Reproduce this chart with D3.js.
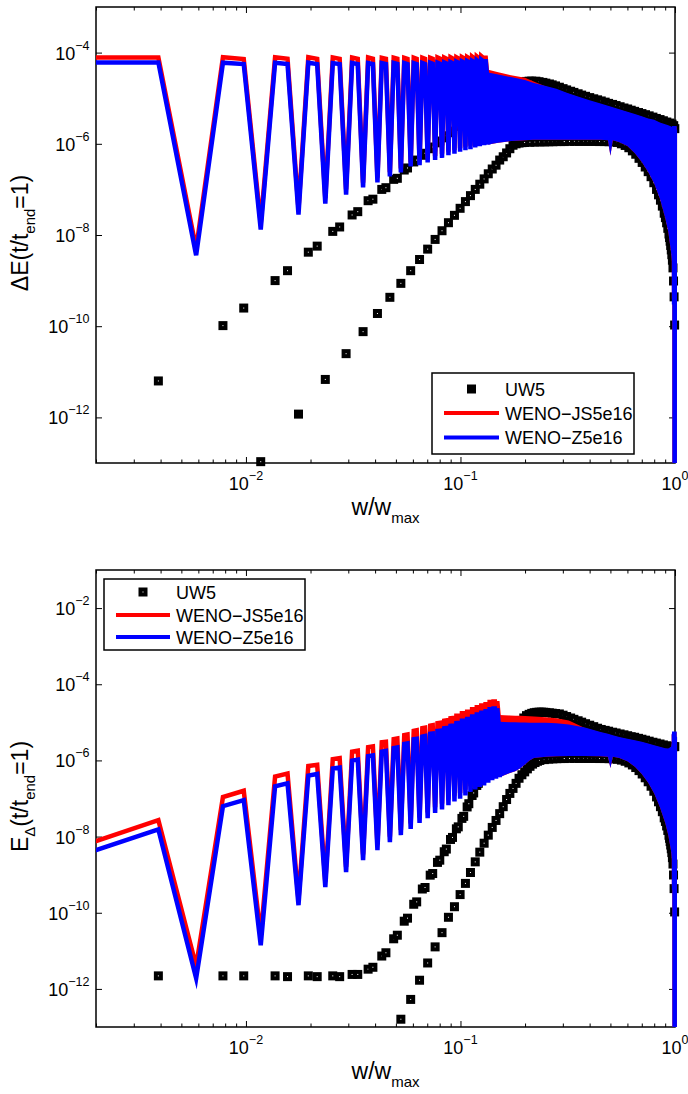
<!DOCTYPE html>
<html>
<head>
<meta charset="utf-8">
<script src="https://cdn.jsdelivr.net/npm/d3@7"></script>
<style>
  body { margin: 0; background: #fff; }
  svg text { font-family: "Liberation Sans", Arial, Helvetica, sans-serif; fill: #000; }
</style>
</head>
<body>
<svg id="fig" width="688" height="1094"></svg>
<script>
// mode k sits at w/w_max = k / N_MODES
const N_MODES = 512;

// ---------- upper panel : dE(t/t_end = 1) ----------
// WENO lines, modes 1..69 (every third mode drops to a trough)
const dE_js = [
  7.8e-5, 7.8e-5, 5.0e-9,  7.9e-5, 7.2e-5, 1.8e-8,  7.9e-5, 7.3e-5, 3.7e-8,
  7.9e-5, 7.3e-5, 6.4e-8,  7.8e-5, 7.3e-5, 1.0e-7,  7.8e-5, 7.3e-5, 1.4e-7,
  7.8e-5, 7.3e-5, 1.8e-7,  7.7e-5, 7.3e-5, 2.4e-7,  7.7e-5, 7.3e-5, 2.9e-7,
  7.7e-5, 7.3e-5, 3.9e-7,  7.7e-5, 7.3e-5, 4.2e-7,  7.7e-5, 7.3e-5, 4.8e-7,
  7.7e-5, 7.3e-5, 5.4e-7,  7.8e-5, 7.4e-5, 6.0e-7,  7.8e-5, 7.4e-5, 6.7e-7,
  7.9e-5, 7.5e-5, 7.3e-7,  7.9e-5, 7.5e-5, 8.0e-7,  8.0e-5, 7.6e-5, 8.6e-7,
  8.0e-5, 7.6e-5, 9.1e-7,  8.2e-5, 7.7e-5, 9.8e-7,  8.3e-5, 7.8e-5, 1.05e-6,
  8.4e-5, 7.9e-5, 1.1e-6,  8.6e-5, 3.9e-5, 1.15e-6
];
const dE_z = [
  6.1e-5, 6.1e-5, 3.6e-9,  6.0e-5, 5.6e-5, 1.32e-8, 6.0e-5, 5.6e-5, 2.8e-8,
  6.0e-5, 5.6e-5, 4.9e-8,  5.9e-5, 5.6e-5, 7.7e-8,  5.9e-5, 5.6e-5, 1.1e-7,
  5.9e-5, 5.6e-5, 1.42e-7, 5.9e-5, 5.6e-5, 1.92e-7, 5.9e-5, 5.6e-5, 2.35e-7,
  5.9e-5, 5.6e-5, 3.2e-7,  5.9e-5, 5.6e-5, 3.4e-7,  5.9e-5, 5.6e-5, 3.9e-7,
  6.0e-5, 5.7e-5, 4.4e-7,  6.0e-5, 5.7e-5, 4.9e-7,  6.1e-5, 5.8e-5, 5.6e-7,
  6.2e-5, 5.9e-5, 6.1e-7,  6.3e-5, 6.0e-5, 6.7e-7,  6.4e-5, 6.1e-5, 7.2e-7,
  6.5e-5, 6.2e-5, 7.6e-7,  6.6e-5, 6.3e-5, 8.3e-7,  6.8e-5, 6.4e-5, 8.9e-7,
  7.0e-5, 6.6e-5, 9.3e-7,  7.2e-5, 3.4e-5, 9.6e-7
];
// dense part: top of each line and common bottom of the band
const dE_bandW    = [0.1348, 0.15, 0.172, 0.2, 0.218, 0.25, 0.28, 0.313, 0.35, 0.4, 0.45, 0.487, 0.5, 0.513,
                     0.55, 0.6, 0.65, 0.7, 0.75, 0.8, 0.85, 0.9, 0.93, 0.96, 0.975, 0.985, 0.99];
const dE_bandJsTop = [4.2e-5, 3.7e-5, 3.2e-5, 2.8e-5, 2.35e-5, 1.8e-5, 1.56e-5, 1.28e-5, 1.07e-5, 8.7e-6, 7.4e-6, 6.6e-6, 6.4e-6, 6.15e-6,
                     5.6e-6, 4.9e-6, 4.35e-6, 3.9e-6, 3.5e-6, 3.25e-6, 2.85e-6, 2.6e-6, 2.47e-6, 2.33e-6, 2.23e-6, 2.13e-6, 2.0e-6];
const dE_bandZTop  = [3.66e-5, 3.3e-5, 2.9e-5, 2.5e-5, 2.17e-5, 1.86e-5, 1.61e-5, 1.32e-5, 1.1e-5, 9.0e-6, 7.65e-6, 6.8e-6, 6.6e-6, 6.35e-6,
                     5.75e-6, 5.05e-6, 4.5e-6, 4.0e-6, 3.6e-6, 3.35e-6, 2.95e-6, 2.7e-6, 2.55e-6, 2.4e-6, 2.3e-6, 2.2e-6, 2.05e-6];
const dE_bandLow   = [9.6e-7, 1.05e-6, 1.15e-6, 1.2e-6, 1.22e-6, 1.22e-6, 1.22e-6, 1.22e-6, 1.22e-6, 1.22e-6, 1.22e-6, 1.2e-6, 5.5e-7, 1.2e-6,
                     1.08e-6, 9.0e-7, 6.2e-7, 4.0e-7, 2.4e-7, 1.35e-7, 6.3e-8, 2.4e-8, 1.2e-8, 4e-9, 2e-9, 9e-10, 5e-10];
// last modes 505..512
const dE_tailJs = [2.1e-6, 2.1e-6, 4e-10, 2.1e-6, 2.1e-6, 1e-15, 2.0e-6, 2.0e-6];
const dE_tailZ  = [2.2e-6, 2.2e-6, 3e-10, 2.2e-6, 2.2e-6, 1e-15, 2.05e-6, 2.05e-6];
// UW5 markers [mode, value]
const dE_uw5Upper = [[2,6.3e-12],[4,1.03e-10],[5,2.5e-10],[7,1.0e-9],[8,1.65e-9],[10,4.2e-9],[11,5.7e-9],[13,1.2e-8],[14,1.5e-8],
  [16,2.75e-8],[17,3.25e-8],[19,5.65e-8],[20,6.1e-8],[22,1.0e-7],[23,1.09e-7],[25,1.66e-7],[26,1.75e-7],[28,2.66e-7],[29,2.95e-7],
  [31,4.0e-7],[32,4.4e-7],[34,5.6e-7],[35,6.2e-7],[37,7.8e-7],[38,8.5e-7],[40,1.05e-6],[41,1.15e-6],[43,1.35e-6],[44,1.5e-6],
  [46,1.75e-6],[47,1.9e-6],[50,2.4e-6],[53,3.0e-6],[56,3.6e-6],[59,4.3e-6],[62,5.1e-6],[65,6.0e-6],[68,7.0e-6],[71,8.0e-6],
  [74,9.0e-6],[77,1.0e-5],[80,1.1e-5],[83,1.25e-5],[86,1.45e-5],[89,1.75e-5],[92,1.95e-5],[95,2.1e-5],[98,2.2e-5],[101,2.28e-5],
  [104,2.33e-5],[107,2.36e-5],[110,2.37e-5],[115,2.36e-5],[119,2.3e-5],[124,2.22e-5],[128,2.14e-5],[133,2.05e-5],[137,1.96e-5],
  [142,1.86e-5],[148,1.74e-5],[154,1.62e-5],[160,1.52e-5],[167,1.42e-5],[173,1.34e-5],[181,1.25e-5],[188,1.17e-5],[196,1.1e-5],
  [205,1.03e-5],[214,9.7e-6],[223,9.2e-6],[232,8.7e-6],[242,8.2e-6],[251,7.7e-6],[262,7.3e-6],[272,6.9e-6],[284,6.5e-6],
  [296,6.1e-6],[308,5.8e-6],[320,5.45e-6],[332,5.15e-6],[346,4.85e-6],[359,4.6e-6],[373,4.35e-6],[388,4.1e-6],[404,3.85e-6],
  [419,3.6e-6],[436,3.4e-6],[452,3.2e-6],[469,3.0e-6],[484,2.85e-6],[496,2.7e-6],[505,2.5e-6],[511,2.15e-6]];
const dE_uw5Lower = [[6,1.07e-13],[9,1.18e-12],[12,6.8e-12],[15,2.5e-11],[18,7.6e-11],[21,1.9e-10],[24,4.3e-10],[27,8.7e-10],
  [30,1.65e-9],[33,2.9e-9],[36,4.9e-9],[39,8.0e-9],[42,1.24e-8],[45,1.86e-8],[48,2.7e-8],[51,3.85e-8],[54,5.4e-8],[57,7.3e-8],
  [60,1.0e-7],[63,1.3e-7],[66,1.7e-7],[69,2.2e-7],[72,2.8e-7],[75,3.4e-7],[78,4.4e-7],[81,5.2e-7],[84,6.3e-7],[87,7.8e-7],
  [90,9.3e-7],[93,1.0e-6],[96,1.04e-6],[99,1.06e-6],[102,1.07e-6],[108,1.08e-6],[114,1.09e-6],[120,1.1e-6],[126,1.1e-6],
  [132,1.11e-6],[138,1.11e-6],[144,1.12e-6],[150,1.12e-6],[156,1.12e-6],[165,1.13e-6],[174,1.13e-6],[183,1.13e-6],[192,1.13e-6],
  [201,1.13e-6],[210,1.13e-6],[219,1.13e-6],[228,1.12e-6],[240,1.12e-6],[252,1.11e-6],[264,1.1e-6],[276,1.07e-6],[288,1.0e-6],
  [300,9.2e-7],[312,8.2e-7],[324,7.0e-7],[336,5.9e-7],[348,4.8e-7],[360,3.9e-7],[372,3.1e-7],[384,2.45e-7],[396,1.9e-7],
  [408,1.4e-7],[420,1.0e-7],[429,7.6e-8],[438,5.8e-8],[447,4.3e-8],[456,3.0e-8],[462,2.4e-8],[468,1.85e-8],[474,1.4e-8],
  [480,1.05e-8],[483,8.8e-9],[486,7.3e-9],[489,5.9e-9],[492,4.7e-9],[495,3.7e-9],[498,2.8e-9],[501,1.9e-9],[504,9.8e-10],
  [507,4.4e-10],[510,1.06e-10]];

// ---------- lower panel : E_delta(t/t_end = 1) ----------
// WENO lines, modes 1..78
const Ed_js = [
  7.3e-9, 2.7e-8, 4.0e-12,  1.09e-7, 1.6e-7, 2.5e-11,  3.75e-7, 4.5e-7, 2.2e-10,
  7.1e-7, 7.65e-7, 6.6e-10, 1.08e-6, 1.15e-6, 1.6e-9,  1.7e-6, 1.8e-6, 3.4e-9,
  2.24e-6, 2.35e-6, 6.2e-9, 3.0e-6, 3.1e-6, 1.0e-8,    3.6e-6, 3.75e-6, 1.5e-8,
  4.6e-6, 4.8e-6, 2.2e-8,   6.0e-6, 6.2e-6, 3.2e-8,    7.0e-6, 7.2e-6, 4.3e-8,
  8.2e-6, 8.4e-6, 5.9e-8,   9.5e-6, 9.7e-6, 7.3e-8,    1.11e-5, 1.13e-5, 9.4e-8,
  1.28e-5, 1.3e-5, 1.18e-7, 1.5e-5, 1.5e-5, 1.39e-7,   1.73e-5, 1.73e-5, 1.7e-7,
  1.9e-5, 1.9e-5, 2.1e-7,   2.2e-5, 2.2e-5, 2.45e-7,   2.5e-5, 2.5e-5, 2.8e-7,
  2.75e-5, 2.75e-5, 3.1e-7, 3.0e-5, 3.0e-5, 3.6e-7,    3.4e-5, 3.4e-5, 4.2e-7,
  3.5e-5, 3.5e-5, 4.6e-7,   3.6e-5, 1.6e-5, 5.0e-7
];
const Ed_z = [
  4.2e-9, 1.54e-8, 1.9e-12, 6.3e-8, 9.1e-8, 1.4e-11,    2.1e-7, 2.5e-7, 1.58e-10,
  4.0e-7, 4.4e-7, 4.7e-10,  6.1e-7, 6.45e-7, 1.16e-9,  9.9e-7, 1.05e-6, 2.4e-9,
  1.3e-6, 1.36e-6, 4.4e-9,  1.7e-6, 1.78e-6, 7.1e-9,    2.1e-6, 2.2e-6, 1.09e-8,
  2.7e-6, 2.8e-6, 1.6e-8,   3.6e-6, 3.7e-6, 2.3e-8,     4.2e-6, 4.35e-6, 3.05e-8,
  5.0e-6, 5.1e-6, 4.2e-8,   5.9e-6, 6.0e-6, 5.2e-8,     7.0e-6, 7.1e-6, 6.7e-8,
  8.1e-6, 8.2e-6, 8.4e-8,   9.5e-6, 9.6e-6, 9.9e-8,     1.1e-5, 1.1e-5, 1.21e-7,
  1.22e-5, 1.22e-5, 1.49e-7, 1.42e-5, 1.42e-5, 1.74e-7, 1.6e-5, 1.6e-5, 2.0e-7,
  1.78e-5, 1.78e-5, 2.2e-7, 1.95e-5, 1.95e-5, 2.6e-7,   2.2e-5, 2.2e-5, 3.0e-7,
  2.3e-5, 2.3e-5, 3.3e-7,   2.35e-5, 1.05e-5, 3.6e-7
];
const Ed_bandW     = [0.1523, 0.16, 0.17, 0.18, 0.19, 0.2, 0.21, 0.22, 0.25, 0.28, 0.32, 0.38, 0.45, 0.487, 0.5, 0.513,
                      0.55, 0.6, 0.65, 0.7, 0.75, 0.8, 0.85, 0.9, 0.93, 0.96, 0.975, 0.985, 0.99];
const Ed_bandJsTop = [1.55e-5, 1.54e-5, 1.52e-5, 1.5e-5, 1.48e-5, 1.46e-5, 1.44e-5, 1.42e-5, 1.36e-5, 1.28e-5, 1.12e-5, 7.1e-6, 5.4e-6, 4.85e-6, 4.65e-6, 4.45e-6,
                      4.0e-6, 3.6e-6, 3.3e-6, 3.0e-6, 2.7e-6, 2.42e-6, 2.23e-6, 2.04e-6, 2.0e-6, 2.23e-6, 3.4e-6, 4.65e-6, 4.85e-6];
const Ed_bandZTop  = [1.03e-5, 1.02e-5, 1.01e-5, 1.0e-5, 9.9e-6, 9.9e-6, 9.8e-6, 9.8e-6, 9.7e-6, 9.5e-6, 8.8e-6, 7.3e-6, 5.6e-6, 5.0e-6, 4.8e-6, 4.6e-6,
                      4.1e-6, 3.7e-6, 3.4e-6, 3.1e-6, 2.8e-6, 2.5e-6, 2.3e-6, 2.1e-6, 2.05e-6, 2.3e-6, 3.5e-6, 4.8e-6, 5.0e-6];
const Ed_bandLow   = [3.6e-7, 4.1e-7, 4.7e-7, 5.2e-7, 6.2e-7, 7.8e-7, 1.0e-6, 1.15e-6, 1.25e-6, 1.28e-6, 1.3e-6, 1.3e-6, 1.28e-6, 1.25e-6, 6.3e-7, 1.24e-6,
                      1.15e-6, 9.5e-7, 6.8e-7, 4.4e-7, 2.6e-7, 1.35e-7, 6e-8, 2.3e-8, 1.1e-8, 4e-9, 1.8e-9, 7e-10, 4e-10];
const Ed_tailJs = [4.8e-6, 4.8e-6, 5e-10, 4.8e-6, 4.8e-6, 1e-15, 4.0e-6, 4.0e-6];
const Ed_tailZ  = [5.0e-6, 5.0e-6, 4e-10, 5.0e-6, 5.0e-6, 1e-15, 4.2e-6, 4.2e-6];
const Ed_uw5Upper = [[2,2.2e-12],[4,2.2e-12],[5,2.2e-12],[7,2.2e-12],[8,2.1e-12],[10,2.2e-12],[11,2.1e-12],[13,2.2e-12],[14,2.1e-12],
  [16,2.4e-12],[17,2.4e-12],[19,3.3e-12],[20,3.7e-12],[22,7.3e-12],[23,8.9e-12],[25,2.07e-11],[26,2.57e-11],[28,6.0e-11],[29,7.2e-11],
  [31,1.67e-10],[32,1.93e-10],[34,4.2e-10],[35,4.6e-10],[37,9.7e-10],[38,1.07e-9],[40,2.1e-9],[41,2.4e-9],[43,4.0e-9],[44,4.7e-9],
  [46,8.4e-9],[47,9.5e-9],[49,1.6e-8],[50,1.8e-8],[52,3.0e-8],[53,3.4e-8],[55,6.0e-8],[56,7.3e-8],[58,1.2e-7],[59,1.4e-7],
  [61,2.2e-7],[62,2.5e-7],[64,3.6e-7],[65,4.0e-7],[67,5.5e-7],[68,6.0e-7],[71,9.0e-7],[74,1.3e-6],[77,1.8e-6],[80,2.5e-6],
  [83,3.3e-6],[86,4.3e-6],[89,5.5e-6],[92,7.0e-6],[95,8.5e-6],[98,1.05e-5],[101,1.3e-5],[104,1.5e-5],[107,1.62e-5],[110,1.72e-5],
  [113,1.79e-5],[116,1.83e-5],[119,1.85e-5],[122,1.85e-5],[125,1.84e-5],[128,1.82e-5],[133,1.78e-5],[137,1.74e-5],[142,1.7e-5],
  [148,1.66e-5],[154,1.54e-5],[160,1.42e-5],[167,1.3e-5],[173,1.2e-5],[181,1.1e-5],[188,1.01e-5],[196,9.2e-6],[205,8.4e-6],
  [214,7.7e-6],[223,7.0e-6],[232,6.5e-6],[242,6.15e-6],[251,5.85e-6],[262,5.5e-6],[272,5.25e-6],[284,4.95e-6],[296,4.7e-6],
  [308,4.45e-6],[320,4.2e-6],[332,4.05e-6],[346,3.8e-6],[359,3.6e-6],[373,3.4e-6],[388,3.2e-6],[404,3.0e-6],[419,2.85e-6],
  [436,2.7e-6],[452,2.55e-6],[469,2.42e-6],[484,2.35e-6],[496,2.32e-6],[505,2.3e-6],[511,2.3e-6]];
const Ed_uw5Lower = [[27,1.6e-13],[30,5.3e-13],[33,1.69e-12],[36,4.8e-12],[39,1.27e-11],[42,3.0e-11],[45,7.6e-11],[48,1.44e-10],
  [51,3.0e-10],[54,5.9e-10],[57,1.14e-9],[60,2.17e-9],[63,3.9e-9],[66,6.7e-9],[69,1.09e-8],[72,1.74e-8],[75,2.65e-8],[78,4.0e-8],
  [81,6.1e-8],[84,9.4e-8],[87,1.36e-7],[90,1.84e-7],[93,2.5e-7],[96,3.4e-7],[99,4.2e-7],[102,5.0e-7],[105,6.0e-7],[108,7.0e-7],
  [111,8.0e-7],[114,8.8e-7],[117,9.5e-7],[120,1.0e-6],[126,1.05e-6],[132,1.08e-6],[138,1.1e-6],[144,1.11e-6],[150,1.12e-6],
  [156,1.12e-6],[165,1.13e-6],[174,1.13e-6],[183,1.13e-6],[192,1.13e-6],[201,1.13e-6],[210,1.13e-6],[219,1.13e-6],[228,1.12e-6],
  [240,1.12e-6],[252,1.11e-6],[264,1.1e-6],[276,1.07e-6],[288,1.02e-6],[300,9.5e-7],[312,8.6e-7],[324,7.6e-7],[336,6.5e-7],
  [348,5.4e-7],[360,4.4e-7],[372,3.5e-7],[384,2.75e-7],[396,2.1e-7],[408,1.55e-7],[420,1.1e-7],[429,8.2e-8],[438,6.1e-8],
  [447,4.5e-8],[456,3.1e-8],[462,2.5e-8],[468,1.9e-8],[474,1.45e-8],[480,1.08e-8],[483,9.0e-9],[486,7.4e-9],[489,6.0e-9],
  [492,4.8e-9],[495,3.8e-9],[498,2.8e-9],[501,1.9e-9],[504,9.8e-10],[507,4.3e-10],[510,1.05e-10]];

const xTickMajor = [0.01, 0.1, 1];
const xTickMinor = [0.002,0.003,0.004,0.005,0.006,0.007,0.008,0.009,
                    0.02,0.03,0.04,0.05,0.06,0.07,0.08,0.09,
                    0.2,0.3,0.4,0.5,0.6,0.7,0.8,0.9];
const legendNames = ["UW5", "WENO\u2212JS5e16", "WENO\u2212Z5e16"];

const RED = "#ff0000", BLUE = "#0000ff";
const LW = 4.5;
const svg = d3.select("#fig");

// square marker: black frame with a tiny white centre
function marker(sel) {
  return sel.attr("width", 5).attr("height", 5)
    .attr("fill", "#fff").attr("stroke", "#000").attr("stroke-width", 4);
}

function drawPanel(p) {
  const x = d3.scaleLog().domain([0.002, 1]).range([p.left, p.right]);
  const y = d3.scaleLog().domain(p.yDomain).range([p.bottom, p.top]);
  const g = svg.append("g");

  // axes box and ticks (underneath the data, like the original)
  g.append("rect").attr("x", p.left).attr("y", p.top)
    .attr("width", p.right - p.left).attr("height", p.bottom - p.top)
    .attr("fill", "none").attr("stroke", "#000").attr("stroke-width", 1.5);

  const tick = (axis, tr, vals, size) => g.append("g").attr("transform", tr)
    .call(axis.tickValues(vals).tickSize(size).tickFormat(""))
    .call(s => s.select(".domain").remove())
    .call(s => s.selectAll("line").attr("stroke", "#000").attr("stroke-width", 1));
  tick(d3.axisBottom(x), `translate(0,${p.bottom})`, xTickMinor, -3.5);
  tick(d3.axisBottom(x), `translate(0,${p.bottom})`, xTickMajor, -6);
  tick(d3.axisTop(x), `translate(0,${p.top})`, xTickMinor, -3.5);
  tick(d3.axisTop(x), `translate(0,${p.top})`, xTickMajor, -6);
  tick(d3.axisLeft(y), `translate(${p.left},0)`, p.yTicks, -6);
  tick(d3.axisRight(y), `translate(${p.right},0)`, p.yTicks, -6);

  // tick labels 10^n
  p.yTicks.forEach(v => {
    const t = g.append("text").attr("x", p.left - 6.5).attr("y", y(v) + 7)
      .attr("text-anchor", "end").style("font-size", "18px");
    t.append("tspan").text("10");
    t.append("tspan").attr("dy", -10).style("font-size", "12.5px")
      .text("\u2212" + Math.round(-Math.log10(v)));
  });
  xTickMajor.forEach(v => {
    const e = Math.round(Math.log10(v));
    const t = g.append("text").attr("x", x(v)).attr("y", p.bottom + 27)
      .attr("text-anchor", "middle").style("font-size", "18px");
    t.append("tspan").text("10");
    t.append("tspan").attr("dy", -10).style("font-size", "12.5px")
      .text(e < 0 ? "\u2212" + (-e) : String(e));
  });

  // axis labels
  const xl = g.append("text").attr("x", (p.left + p.right) / 2).attr("y", p.bottom + 52)
    .attr("text-anchor", "middle").style("font-size", "23px");
  xl.append("tspan").text("w/w");
  xl.append("tspan").attr("dy", 8).style("font-size", "15px").text("max");
  const yl = g.append("text")
    .attr("transform", `translate(28,${(p.top + p.bottom) / 2 - 2}) rotate(-90)`)
    .attr("text-anchor", "middle").style("font-size", "23px");
  let shifted = false;
  p.yLabel.forEach(([s, sub]) => {
    const dy = sub === shifted ? 0 : (sub ? 7 : -7);
    shifted = sub;
    yl.append("tspan").attr("dy", dy).style("font-size", sub ? "15px" : null).text(s);
  });

  // data
  const clipId = "clip-" + p.id;
  g.append("clipPath").attr("id", clipId).append("rect")
    .attr("x", p.left).attr("y", p.top).attr("width", p.right - p.left + 3).attr("height", p.bottom - p.top);
  const data = g.append("g");

  const inside = d => d[1] >= p.yDomain[0] && d[1] <= p.yDomain[1];
  const uw5 = p.uw5Upper.concat(p.uw5Lower).filter(inside);
  // UW5 markers go first so the WENO curves sit on top
  data.append("g").selectAll("rect").data(uw5).join("rect")
    .attr("x", d => x(d[0] / N_MODES) - 2.5).attr("y", d => y(d[1]) - 2.5)
    .call(marker);

  const lines = data.append("g").attr("clip-path", `url(#${clipId})`);
  const line = d3.line().x(d => x(d[0])).y(d => y(d[1]));
  const area = d3.area().x(d => x(d[0])).y0(d => y(d[2])).y1(d => y(d[1]));
  const zig = vals => vals.map((v, i) => [(i + 1) / N_MODES, v]);
  const tail = vals => vals.map((v, i) => [(505 + i) / N_MODES, v]);

  [[p.js, p.bandJs, p.tailJs, RED], [p.z, p.bandZ, p.tailZ, BLUE]].forEach(([zz, top, tl, c]) => {
    const band = p.bandW.map((w, i) => [w, top[i], p.bandLow[i]]);
    lines.append("path").attr("d", area(band)).attr("fill", c);
    [zig(zz), tail(tl)].forEach(pts => {
      lines.append("path").attr("d", line(pts)).attr("fill", "none")
        .attr("stroke", c).attr("stroke-width", LW)
        .attr("stroke-linejoin", "miter").attr("stroke-miterlimit", 6);
    });
  });

  // legend
  const L = p.legend;
  const lg = g.append("g");
  lg.append("rect").attr("x", L.x0).attr("y", L.y0).attr("width", L.x1 - L.x0).attr("height", L.y1 - L.y0)
    .attr("fill", "#fff").attr("stroke", "#000").attr("stroke-width", 1.5);
  const mx = (L.lx0 + L.lx1) / 2;
  lg.append("rect").attr("x", mx - 2.5).attr("y", L.rows[0] - 2.5).call(marker);
  [RED, BLUE].forEach((c, i) => lg.append("line")
    .attr("x1", L.lx0).attr("x2", L.lx1).attr("y1", L.rows[i + 1]).attr("y2", L.rows[i + 1])
    .attr("stroke", c).attr("stroke-width", 4));
  legendNames.forEach((n, i) => lg.append("text").attr("x", L.tx).attr("y", L.rows[i] + 6.5)
    .style("font-size", "18px").text(n));
}

drawPanel({
  id: "dE", left: 96, right: 675, top: 7, bottom: 463,
  yDomain: [1e-13, 1e-3], yTicks: [1e-12, 1e-10, 1e-8, 1e-6, 1e-4],
  yLabel: [["\u0394E(t/t", false], ["end", true], ["=1)", false]],
  js: dE_js, z: dE_z, bandW: dE_bandW, bandJs: dE_bandJsTop, bandZ: dE_bandZTop, bandLow: dE_bandLow,
  tailJs: dE_tailJs, tailZ: dE_tailZ, uw5Upper: dE_uw5Upper, uw5Lower: dE_uw5Lower,
  legend: { x0: 432, x1: 634, y0: 373, y1: 454, rows: [389, 413, 437.5], lx0: 444, lx1: 499, tx: 505 }
});
drawPanel({
  id: "Ed", left: 96, right: 675, top: 570, bottom: 1027,
  yDomain: [1e-13, 1e-1], yTicks: [1e-12, 1e-10, 1e-8, 1e-6, 1e-4, 1e-2],
  yLabel: [["E", false], ["\u0394", true], ["(t/t", false], ["end", true], ["=1)", false]],
  js: Ed_js, z: Ed_z, bandW: Ed_bandW, bandJs: Ed_bandJsTop, bandZ: Ed_bandZTop, bandLow: Ed_bandLow,
  tailJs: Ed_tailJs, tailZ: Ed_tailZ, uw5Upper: Ed_uw5Upper, uw5Lower: Ed_uw5Lower,
  legend: { x0: 104, x1: 305, y0: 579, y1: 650, rows: [592, 615, 637], lx0: 116, lx1: 170, tx: 176 }
});
</script>
</body>
</html>
